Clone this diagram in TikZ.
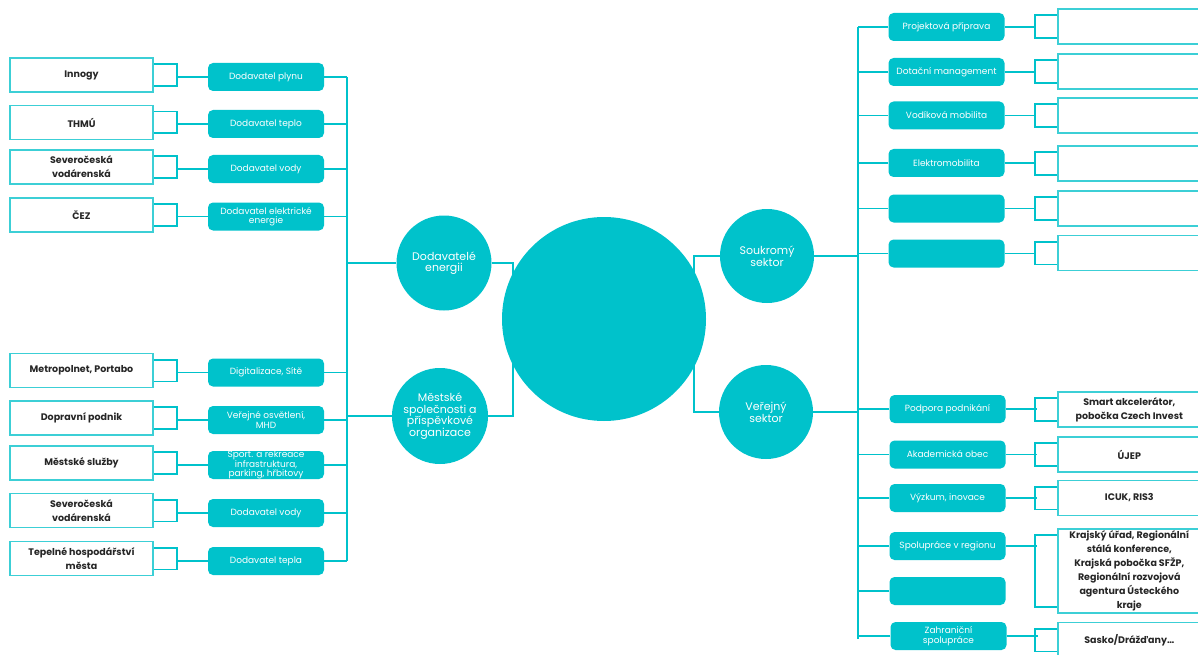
\documentclass[tikz,border=0pt]{standalone}
\usepackage{fontspec}
\setmainfont{Poppins}
\definecolor{tyrkys}{HTML}{00C2CB}
\definecolor{tyrkysobrys}{HTML}{3CCFD6}
\tikzset{
  spoj/.style={draw=tyrkys, line width=1.6pt},
  pole/.style={draw=tyrkysobrys, line width=1.6pt, fill=white, minimum width=143pt,
    minimum height=34pt, inner sep=0pt, align=center, text=black!85,
    font=\bfseries\fontsize{9.5}{14}\selectfont},
  oblast/.style={fill=tyrkys, rounded corners=5pt, minimum width=116pt, minimum height=28pt,
    inner sep=0pt, align=center, text=white, font=\fontsize{9}{9.3}\selectfont},
  sektor/.style={circle, fill=tyrkys, inner sep=0pt, align=center, text=white,
    font=\fontsize{11}{11.5}\selectfont}
}
\begin{document}
\begin{tikzpicture}[x=1pt, y=-1pt]
  \useasboundingbox (0,0) rectangle (1198,655);

  % levá strana: organizace (bílé obdélníky)
  \node[pole] (innogy) at (81.5,75) {Innogy};
  \node[pole] (thmu) at (81.5,122.5) {THMÚ};
  \node[pole] (scvk) at (81.5,167) {Severočeská\\vodárenská};
  \node[pole] (cez) at (81.5,215) {ČEZ};
  \node[pole] (metro) at (81.5,370.5) {Metropolnet, Portabo};
  \node[pole] (dp) at (81.5,418) {Dopravní podnik};
  \node[pole] (sluzby) at (81.5,463) {Městské služby};
  \node[pole] (scvkb) at (81.5,510.5) {Severočeská\\vodárenská};
  \node[pole] (tepelne) at (81.5,558.5) {Tepelné hospodářství\\města};

  % levá strana: oblasti (tyrkysové)
  \node[oblast] (plyn) at (266,77) {Dodavatel plynu};
  \node[oblast] (teplo) at (266,124) {Dodavatel teplo};
  \node[oblast] (vody) at (266,169) {Dodavatel vody};
  \node[oblast] (elektro) at (266,216.5) {Dodavatel elektrické\\energie};
  \node[oblast] (digi) at (266,372.5) {Digitalizace, Sítě};
  \node[oblast] (osvetleni) at (266,420) {Veřejné osvětlení,\\MHD};
  \node[oblast] (sport) at (266,465) {Sport. a rekreace\\infrastruktura,\\parking, hřbitovy};
  \node[oblast] (vodyb) at (266,513) {Dodavatel vody};
  \node[oblast] (tepla) at (266,561) {Dodavatel tepla};

  % levé kruhy
  \node[sektor, minimum size=95pt] (energie) at (444,263) {Dodavatelé\\energii};
  \node[sektor, minimum size=96pt] (mestske) at (440,416) {Městské\\společnosti a\\příspěvkové\\organizace};

  % pravé kruhy
  \node[sektor, minimum size=94pt] (soukromy) at (767,256) {Soukromý\\sektor};
  \node[sektor, minimum size=94pt] (verejny) at (766,412) {Veřejný\\sektor};

  % pravá strana: oblasti (tyrkysové)
  \node[oblast] (projekt) at (946.5,27) {Projektová příprava};
  \node[oblast] (dotace) at (946.5,72) {Dotační management};
  \node[oblast] (vodik) at (946.5,115.5) {Vodíková mobilita};
  \node[oblast] (elmob) at (946.5,163) {Elektromobilita};
  \node[oblast] (prazdna) at (946.5,208.5) {};
  \node[oblast] (prazdnb) at (946.5,253.5) {};
  \node[oblast] (podpora) at (947.5,409) {Podpora podnikání};
  \node[oblast] (akademie) at (947.5,454.5) {Akademická obec};
  \node[oblast] (vyzkum) at (947.5,498) {Výzkum, inovace};
  \node[oblast] (region) at (947.5,546) {Spolupráce v regionu};
  \node[oblast] (prazdnc) at (947.5,591) {};
  \node[oblast] (zahranici) at (948.5,636) {Zahraniční\\spolupráce};

  % pravá strana: partneři (bílé obdélníky)
  \node[pole, anchor=west, minimum height=35pt] (projekto) at (1057,26.5) {};
  \node[pole, anchor=west, minimum height=35pt] (dotaceo) at (1057,71.5) {};
  \node[pole, anchor=west, minimum height=35pt] (vodiko) at (1057,115.5) {};
  \node[pole, anchor=west, minimum height=35pt] (elmobo) at (1057,163.5) {};
  \node[pole, anchor=west, minimum height=35pt] (prazdnao) at (1057,208.5) {};
  \node[pole, anchor=west, minimum height=35pt] (prazdnbo) at (1057,253) {};
  \node[pole, anchor=west, minimum height=35pt] (smart) at (1057,409.5) {Smart akcelerátor,\\pobočka Czech Invest};
  \node[pole, anchor=west, minimum height=35pt] (ujep) at (1057,454.5) {ÚJEP};
  \node[pole, anchor=west, minimum height=35pt] (icuk) at (1057,498) {ICUK, RIS3};
  \node[pole, anchor=west, minimum height=84pt] (kraj) at (1057,571) {Krajský úřad, Regionální\\stálá konference,\\Krajská pobočka SFŽP,\\Regionální rozvojová\\agentura Ústeckého\\kraje};
  \node[pole, anchor=west, minimum height=35pt] (sasko) at (1057,640) {Sasko/Drážďany…};

  % svislé osy
  \coordinate (levaosa) at (347,0);
  \coordinate (pravaosa) at (858,0);
  \coordinate (lzavorka) at (513,0);
  \coordinate (pzavorka) at (694,0);
  \draw[spoj] (plyn.east -| levaosa) -- (tepla.east -| levaosa);
  \draw[spoj] (projekt.west -| pravaosa) -- ([yshift=-3pt]zahranici.west -| pravaosa);

  % závorky vlevo
  \foreach \o/\f in {innogy/plyn, thmu/teplo, scvk/vody, cez/elektro, metro/digi,
                     dp/osvetleni, sluzby/sport, scvkb/vodyb, tepelne/tepla} {
    \draw[spoj] ([yshift=-7pt]\o.north east) -- ++(23,0) |- ([yshift=7pt]\o.south east);
    \draw[spoj] (\f.west) -- ++(-32,0);
    \draw[spoj] (\f.east) -- (\f.east -| levaosa);
  }

  % závorky vpravo
  \foreach \f/\o in {projekt/projekto, dotace/dotaceo, vodik/vodiko, elmob/elmobo,
                     prazdna/prazdnao, prazdnb/prazdnbo, podpora/smart, akademie/ujep,
                     vyzkum/icuk, region/kraj, zahranici/sasko} {
    \draw[spoj] ([yshift=-7pt]\o.north west) -- ++(-22,0) |- ([yshift=7pt]\o.south west);
    \draw[spoj] (\f.east) -- ++(31,0);
    \draw[spoj] (\f.west) -- (\f.west -| pravaosa);
  }
  \draw[spoj] (prazdnc.west) -- (prazdnc.west -| pravaosa);

  % kruhy k osám
  \draw[spoj] (energie.west) -- (energie.west -| levaosa);
  \draw[spoj] (mestske.west) -- (mestske.west -| levaosa);
  \draw[spoj] (soukromy.east) -- (soukromy.east -| pravaosa);
  \draw[spoj] (verejny.east) -- (verejny.east -| pravaosa);

  % závorky ke středu
  \draw[spoj] (energie.east) -- (energie.east -| lzavorka) -- (mestske.east -| lzavorka) -- (mestske.east);
  \draw[spoj] (soukromy.west) -- (soukromy.west -| pzavorka) -- (verejny.west -| pzavorka) -- (verejny.west);

  % velký kruh uprostřed
  \node[sektor, minimum size=204pt] (stred) at (604,319) {};
\end{tikzpicture}
\end{document}
